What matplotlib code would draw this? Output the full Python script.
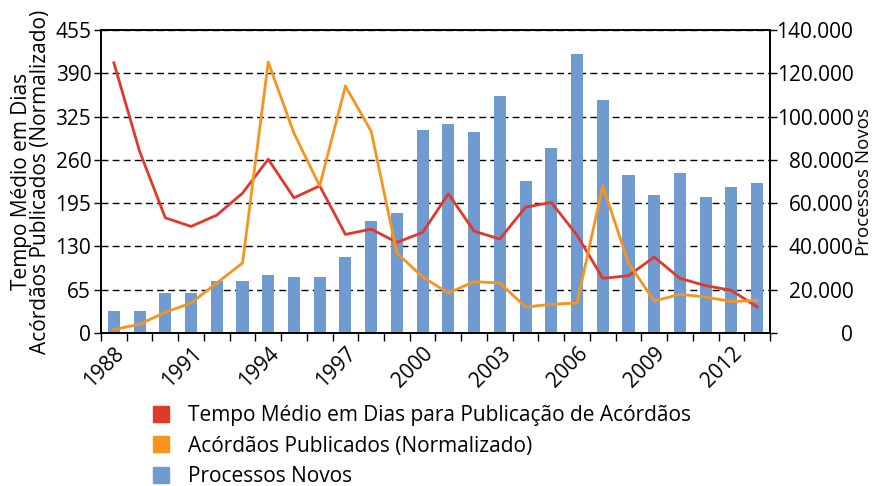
import matplotlib.pyplot as plt
import numpy as np
from matplotlib.lines import Line2D
from matplotlib.ticker import FuncFormatter

plt.rcParams['font.family'] = ['Open Sans', 'DejaVu Sans']

# Séries anuais
anos = list(range(1988, 2014))
tempo_medio = [406, 273, 173, 160, 177, 210, 261, 203, 221, 148, 156, 136, 151,
               209, 153, 141, 189, 196, 147, 82, 86, 114, 82, 71, 64, 39]
acordaos_norm = [5, 13, 31, 45, 75, 105, 407, 300, 221, 371, 303, 120, 84,
                 60, 77, 75, 39, 43, 45, 221, 105, 48, 58, 54, 47, 49]
processos_novos = [10000, 10000, 18500, 18500, 24000, 24000, 26800, 25900, 25900,
                   35100, 51700, 55400, 93900, 96600, 92900, 109500, 70200, 85500,
                   128900, 107600, 73000, 63800, 73900, 62800, 67500, 69300]

cor_tempo = '#e0392b'
cor_acord = '#f7941d'
cor_proc = '#6f9bd1'
fs = 15

fig = plt.figure(figsize=(8.78, 4.86), dpi=100)
ax2 = fig.add_axes([0.115, 0.315, 0.762, 0.623])
ax = ax2.twinx()
# eixo das linhas por cima das barras
ax.set_zorder(ax2.get_zorder() + 1)
ax.patch.set_visible(False)

x = np.arange(len(anos))

# barras no eixo da direita
ax2.bar(x, processos_novos, width=0.47, color=cor_proc, zorder=2)
ax2.set_ylim(0, 140000)
ax2.set_yticks(np.arange(0, 140001, 20000))
ax2.yaxis.tick_right()
ax2.yaxis.set_label_position('right')
ax2.yaxis.set_major_formatter(FuncFormatter(lambda v, p: f'{int(v):,}'.replace(',', '.')))
ax2.grid(axis='y', color='black', linestyle=(0, (5, 3)), linewidth=1.0, zorder=0)
ax2.set_axisbelow(True)
ax2.tick_params(axis='y', direction='out', length=5, width=1, labelsize=fs, pad=55)
for lbl in ax2.get_yticklabels():
    lbl.set_horizontalalignment('right')
ax2.set_ylabel('Processos Novos', fontsize=13.5)
ax2.yaxis.set_label_coords(1.127, 0.5)

# linhas no eixo da esquerda
ax.plot(x, tempo_medio, color=cor_tempo, linewidth=2)
ax.plot(x, acordaos_norm, color=cor_acord, linewidth=2)
ax.set_ylim(0, 455)
ax.set_yticks(np.arange(0, 456, 65))
ax.yaxis.tick_left()
ax.yaxis.set_label_position('left')
ax.tick_params(axis='y', direction='out', length=5, width=1, labelsize=fs, pad=2)
ax.set_ylabel('Tempo Médio em Dias\nAcórdãos Publicados (Normalizado)',
              fontsize=fs, linespacing=0.9)
ax.yaxis.set_label_coords(-0.074, 0.5)

# eixo x: rótulos a cada 3 anos, marcas nos limites das categorias
ax2.set_xlim(-0.5, len(anos) - 0.5)
ax2.set_xticks(x[::3])
ax2.set_xticklabels([str(a) for a in anos[::3]], rotation=45, ha='right',
                    rotation_mode='anchor', fontsize=fs)
ax2.set_xticks(np.arange(-0.5, len(anos)), minor=True)
ax2.tick_params(axis='x', which='major', length=0, pad=7)
ax2.tick_params(axis='x', which='minor', direction='out', length=6, width=1)
ax.tick_params(axis='x', which='both', length=0, labelbottom=False)

for a in (ax, ax2):
    for s in a.spines.values():
        s.set_linewidth(1.2)

handles = [
    Line2D([], [], marker='s', linestyle='none', markersize=11.5,
           markerfacecolor=c, markeredgecolor=c)
    for c in (cor_tempo, cor_acord, cor_proc)
]
labels = ['Tempo Médio em Dias para Publicação de Acórdãos',
          'Acórdãos Publicados (Normalizado)',
          'Processos Novos']
fig.legend(handles, labels, loc='upper left', bbox_to_anchor=(0.171, 0.166),
           frameon=False, fontsize=fs, handletextpad=0.8, labelspacing=0.45,
           handlelength=1.0, borderaxespad=0, borderpad=0)

fig.savefig('out.png', dpi=100)
